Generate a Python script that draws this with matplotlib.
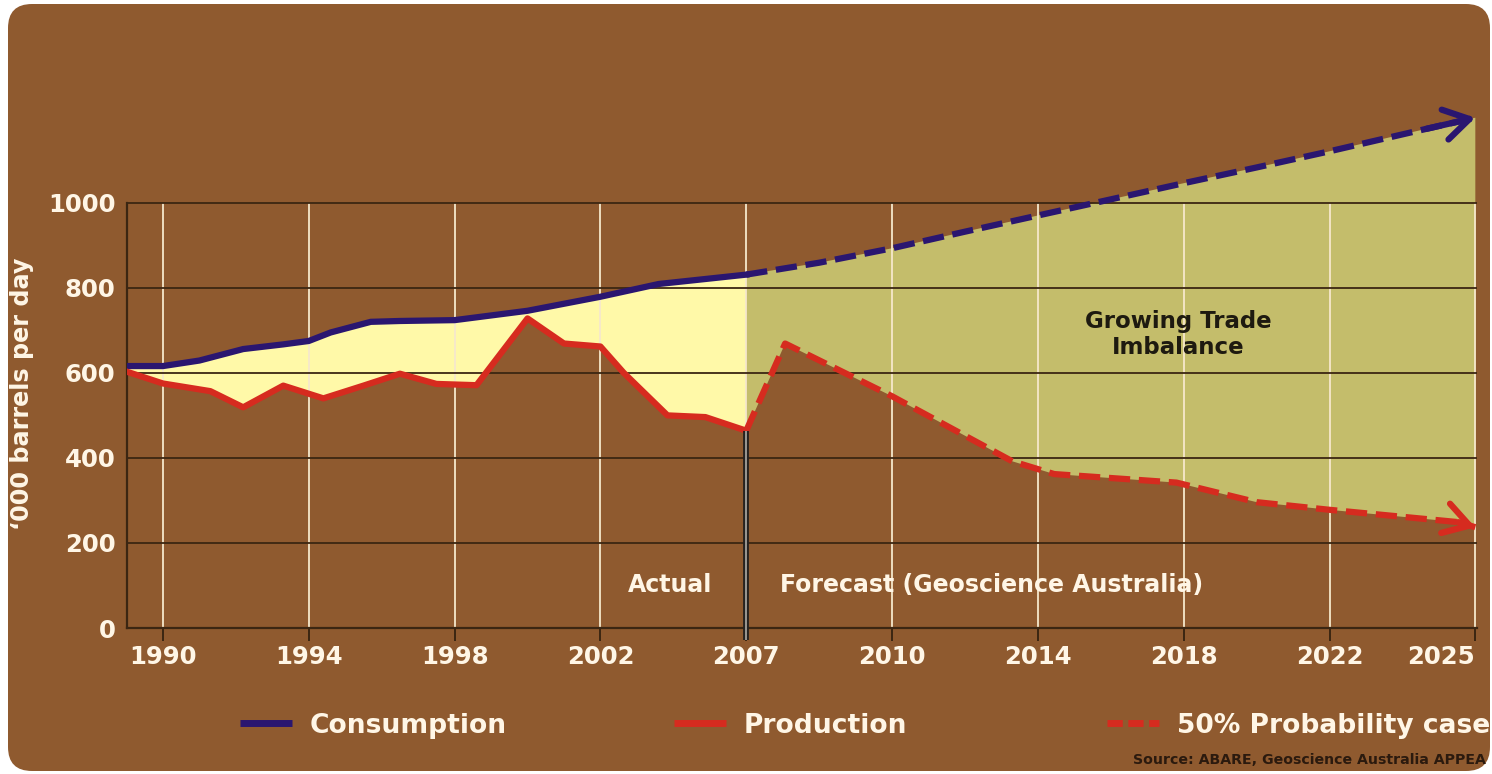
import numpy as np
import matplotlib
import matplotlib.pyplot as plt
from matplotlib.lines import Line2D
from matplotlib.patches import FancyBboxPatch
from matplotlib.transforms import IdentityTransform

# x axis labels are not evenly spaced in time, each one gets the same width
tick_years = [1990, 1994, 1998, 2002, 2007, 2010, 2014, 2018, 2022, 2025]
y_ticks = [0, 200, 400, 600, 800, 1000]

# actual figures ('000 barrels per day)
cons_years = [1989, 1990, 1991, 1992.2, 1993.3, 1994, 1994.6, 1995.7, 1996.5,
              1998, 2000, 2002, 2004, 2007]
cons_actual = [616, 616, 629, 656, 667, 675, 695, 720, 722,
               724, 746, 779, 809, 831]
prod_years = [1989, 1990, 1991.3, 1992.2, 1993.3, 1994.4, 1995.5, 1996.5, 1997.5,
              1998.6, 2000, 2001, 2002, 2002.8, 2004.3, 2005.6, 2007]
prod_actual = [603, 575, 557, 519, 570, 540, 570, 598, 574,
               571, 728, 669, 662, 600, 500, 496, 464]

# forecast (Geoscience Australia)
fc_cons_years = [2007, 2008.5, 2010, 2012, 2014, 2016, 2018, 2020, 2022, 2024, 2025]
fc_cons = [831, 859, 893, 932, 970, 1008, 1046, 1083, 1121, 1174, 1200]
fc_prod_years = [2007, 2007.8, 2010, 2013.3, 2014.45, 2017.8, 2020, 2022, 2024.65, 2025]
fc_prod = [464, 669, 545, 392, 362, 342, 296, 278, 249, 237]

legend_labels = ['Consumption', 'Production', '50% Probability case']

BROWN = '#8F5A2F'
YELLOW = '#FFF9A8'
OLIVE = '#C4BD6B'
NAVY = '#2A1670'
RED = '#D62B1F'
CREAM = '#FFF6E6'
GRID = '#3B2612'
DASH = (0, (3.4, 1.4))

idx = np.arange(len(tick_years))
first_step = tick_years[1] - tick_years[0]
last_step = tick_years[-1] - tick_years[-2]


def year_to_pos(y):
    y = np.asarray(y, dtype=float)
    pos = np.interp(y, tick_years, idx)
    pos = np.where(y < tick_years[0], (y - tick_years[0]) / first_step, pos)
    pos = np.where(y > tick_years[-1], idx[-1] + (y - tick_years[-1]) / last_step, pos)
    return pos


def pos_to_year(p):
    p = np.asarray(p, dtype=float)
    yr = np.interp(p, idx, tick_years)
    yr = np.where(p < 0, tick_years[0] + p * first_step, yr)
    yr = np.where(p > idx[-1], tick_years[-1] + (p - idx[-1]) * last_step, yr)
    return yr


fig = plt.figure(figsize=(14.92, 7.74), dpi=100, facecolor='white')
bg = FancyBboxPatch((8, 3), 1482, 767, boxstyle='round,pad=0,rounding_size=24',
                    transform=IdentityTransform(), facecolor=BROWN, edgecolor='none',
                    zorder=-10)
fig.add_artist(bg)

ax = fig.add_axes([0.0848, 0.1886, 0.905, 0.6868])
ax.patch.set_visible(False)
ax.set_xscale('function', functions=(year_to_pos, pos_to_year))

# gap between consumption and production
ax.fill(np.r_[cons_years, prod_years[::-1]], np.r_[cons_actual, prod_actual[::-1]],
        color=YELLOW, lw=0, zorder=1)
ax.fill(np.r_[fc_cons_years, fc_prod_years[::-1]], np.r_[fc_cons, fc_prod[::-1]],
        color=OLIVE, lw=0, zorder=1)

ax.vlines(tick_years, 0, y_ticks[-1], color='#F6E8CC', lw=1.3, zorder=2)

ax.plot(cons_years, cons_actual, color=NAVY, lw=4.5, zorder=3)
ax.plot(prod_years, prod_actual, color=RED, lw=4.5, zorder=3)
ax.plot(fc_cons_years, fc_cons, color=NAVY, lw=4.5, ls=DASH, zorder=3)
ax.plot(fc_prod_years, fc_prod, color=RED, lw=4.5, ls=DASH, zorder=3)

for yrs, vals, col in [(fc_cons_years, fc_cons, NAVY), (fc_prod_years, fc_prod, RED)]:
    ax.annotate('', xy=(yrs[-1], vals[-1]), xytext=(yrs[-2], vals[-2]),
                arrowprops=dict(arrowstyle='->,head_length=0.9,head_width=0.55',
                                color=col, lw=4.5, mutation_scale=20,
                                shrinkA=0, shrinkB=0), zorder=4)

# actual / forecast divider
ax.plot([prod_years[-1]] * 2, [prod_actual[-1], -28], color='#262220', lw=4.2,
        solid_capstyle='butt', clip_on=False, zorder=4)
ax.plot([prod_years[-1]] * 2, [prod_actual[-1], -28], color='#B0ABA5', lw=1.2,
        solid_capstyle='butt', clip_on=False, zorder=4)

ax.set_xlim(1989.0, 2025.03)
ax.set_ylim(0, 1250)
ax.set_xticks(tick_years)
ax.set_xticklabels([str(t) for t in tick_years])
ax.set_yticks(y_ticks)
ax.set_axisbelow(False)
ax.grid(axis='y', color=GRID, lw=1.3)
ax.grid(axis='x', visible=False)

for s in ['top', 'right']:
    ax.spines[s].set_visible(False)
ax.spines['left'].set_bounds(0, y_ticks[-1])
for s in ['left', 'bottom']:
    ax.spines[s].set_color(GRID)
    ax.spines[s].set_linewidth(1.6)

ax.tick_params(axis='x', direction='out', length=9, width=1.4, color=GRID, pad=3,
               labelsize=17.6, labelcolor=CREAM)
ax.tick_params(axis='y', length=0, pad=8, labelsize=17.6, labelcolor=CREAM)
for lab in ax.get_xticklabels() + ax.get_yticklabels():
    lab.set_fontweight('bold')
# last year label sits inside the right edge
ax.get_xticklabels()[-1].set_horizontalalignment('right')

fig.text(22 / 1492, 1 - 394 / 774, '\u2018000 barrels per day', rotation=90,
         ha='center', va='center', fontsize=17.2, fontweight='bold', color=CREAM)

ax.text(2005.85, 100, 'Actual', ha='right', va='center', fontsize=17,
        fontweight='bold', color=CREAM)
ax.text(2007.7, 100, 'Forecast (Geoscience Australia)', ha='left', va='center',
        fontsize=17, fontweight='bold', color=CREAM)
ax.text(2017.86, 691, 'Growing Trade\nImbalance', ha='center', va='center',
        fontsize=16.5, fontweight='bold', color='#1E1A10', linespacing=1.15)

# legend laid out as three evenly spaced entries along the bottom
styles = [dict(color=NAVY, ls='-'), dict(color=RED, ls='-'), dict(color=RED, ls=(0, (2.2, 0.8)))]
for i, (label, st) in enumerate(zip(legend_labels, styles)):
    x0 = 240 + 433.5 * i
    fig.add_artist(Line2D([x0 / 1492, (x0 + 52) / 1492], [1 - 723 / 774] * 2,
                          lw=5, solid_capstyle='butt', **st))
    fig.text((x0 + 70) / 1492, 1 - 733 / 774, label, ha='left', va='baseline',
             fontsize=19.1, fontweight='bold', color=CREAM)

fig.text(1486 / 1492, 1 - 760 / 774, 'Source: ABARE, Geoscience Australia APPEA',
         ha='right', va='center', fontsize=10.2, fontweight='bold', color='#2B1A0E')

fig.savefig('out.png', dpi=100, facecolor='white')
